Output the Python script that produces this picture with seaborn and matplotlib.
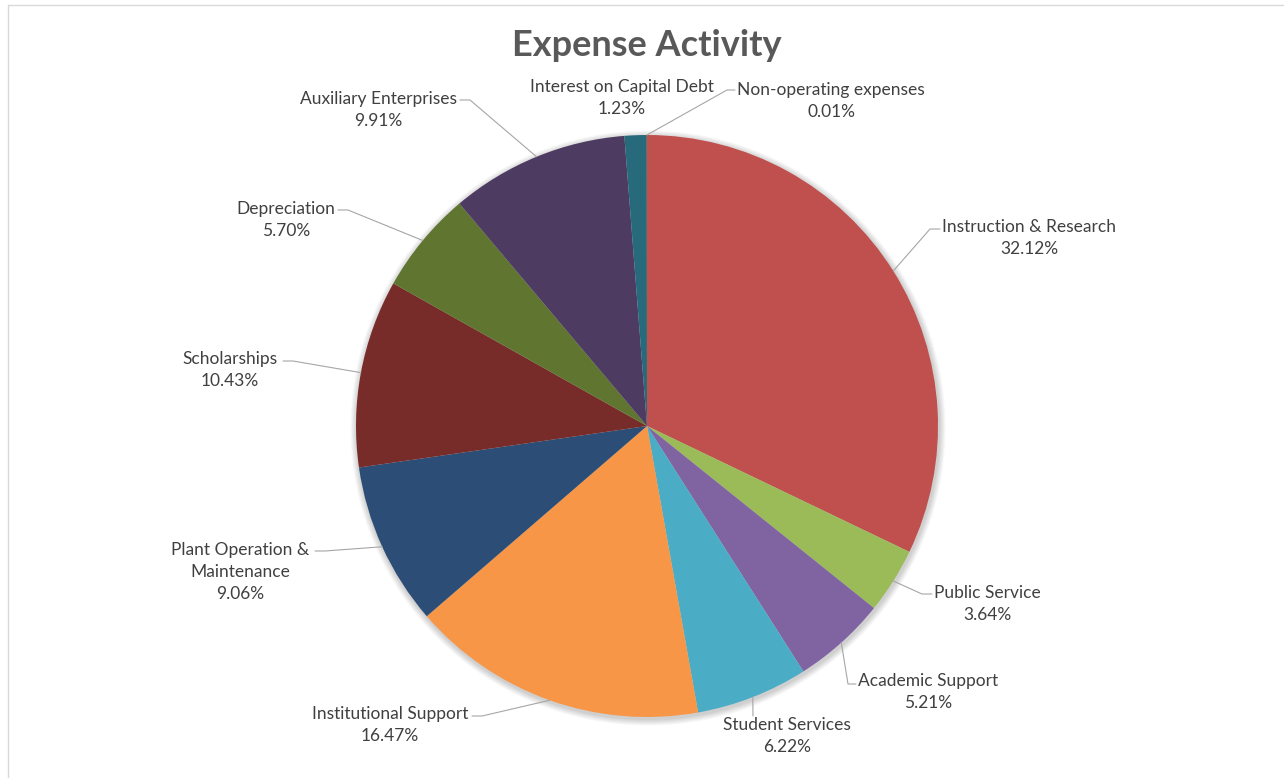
import numpy as np
import matplotlib
matplotlib.use("Agg")
import matplotlib.pyplot as plt
import seaborn as sns
from matplotlib.patches import Circle

# data
categories = ['Instruction & Research', 'Public Service', 'Academic Support',
              'Student Services', 'Institutional Support',
              'Plant Operation &\nMaintenance', 'Scholarships', 'Depreciation',
              'Auxiliary Enterprises', 'Interest on Capital Debt',
              'Non-operating expenses']
shares = [32.12, 3.64, 5.21, 6.22, 16.47, 9.06, 10.43, 5.70, 9.91, 1.23, 0.01]
colors = ['#C0504D', '#9BBB59', '#8064A2', '#4BACC6', '#F79646', '#2C4D75',
          '#772C2A', '#5F7530', '#4D3B62', '#276A7C', '#B65708']

sns.set_theme(style="white")
plt.rcParams['font.family'] = ['Liberation Sans Narrow', 'Lato', 'DejaVu Sans']

W, H = 1284, 778
fig = plt.figure(figsize=(W / 100, H / 100), dpi=100)
ax = fig.add_axes([0, 0, 1, 1])
ax.set_xlim(0, W)
ax.set_ylim(0, H)
ax.axis('off')

cx, cy, R = 647, H - 426, 291

# soft shadow
for i in range(8):
    ax.add_patch(Circle((cx + 1, cy - 2), R + 1 + i * 0.8, color='black',
                        alpha=0.025, lw=0, zorder=0))

wedges, _ = ax.pie(shares, colors=colors, startangle=90, counterclock=False,
                   center=(cx, cy), radius=R, frame=True,
                   wedgeprops=dict(linewidth=0))
ax.set_xlim(0, W)
ax.set_ylim(0, H)
ax.set_aspect('equal')
ax.axis('off')

# label layout: text centre, elbow point, end of leader (pixel coords from top)
label_pos = [(1029, 238), (987, 604), (928, 692), (787, 736), (390, 725),
             (240, 572), (230, 370), (286, 220), (378, 110), (622, 98),
             (831, 101)]
leaders = [((930, 229), (940, 229)), ((922, 594), (932, 594)),
           ((848, 684), (856, 684)), ((753, 716), (753, 716)),
           ((482, 716), (472, 716)), ((325, 551), (315, 551)),
           ((293, 361), (283, 361)), ((348, 210), (338, 210)),
           ((470, 100), (460, 100)), None, ((727, 90), (735, 90))]

for w, name, val, (tx, ty), ld in zip(wedges, categories, shares, label_pos, leaders):
    mid = np.deg2rad((w.theta1 + w.theta2) / 2)
    ex, ey = cx + R * np.cos(mid), cy + R * np.sin(mid)
    ax.text(tx, H - ty, f"{name}\n{val:.2f}%", ha='center', va='center',
            fontsize=12.5, color='#404040', linespacing=1.45)
    if ld is not None:
        (bx, by), (fx, fy) = ld
        ax.plot([ex, bx, fx], [ey, H - by, H - fy], color='#A6A6A6', lw=0.8,
                zorder=5)

ax.text(cx, H - 45, 'Expense Activity', ha='center', va='center',
        fontsize=26, fontweight='bold', color='#595959')

# frame edges visible in the screenshot
fig.add_artist(plt.Line2D([8 / W, 1], [1 - 5 / H, 1 - 5 / H], color='#D9D9D9', lw=1))
fig.add_artist(plt.Line2D([8 / W, 8 / W], [0, 1 - 5 / H], color='#D9D9D9', lw=1))

fig.savefig('out.png', dpi=100, facecolor='white')
